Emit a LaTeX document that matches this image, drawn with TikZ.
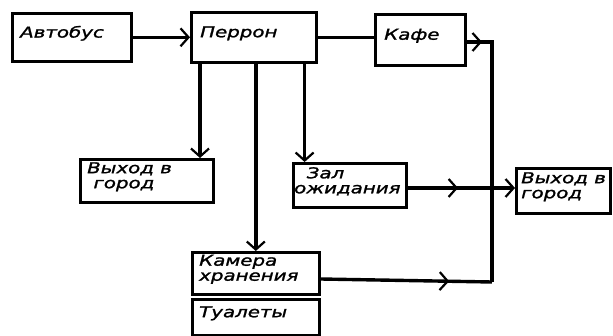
\documentclass[tikz,border=0pt]{standalone}
\usepackage{fontspec}
\setmainfont{DejaVu Sans}
\newfontfamily\hand[FakeStretch=1.32,FakeBold=1.5]{DejaVu Sans}
\usetikzlibrary{arrows.meta,decorations.markings}
\tikzset{
  x=1pt,y=1pt,
  box/.style={draw,line width=2.6pt,anchor=north west,inner sep=0pt},
  lbl/.style={anchor=west,align=left,inner sep=0pt,
    font=\hand\itshape\fontsize{15}{15}\selectfont},
  conn/.style={line width=3.4pt},
  tip/.style={-{Straight Barb[length=8pt,width=18pt,line width=2.2pt]}},
  midarr/.style={postaction={decorate},decoration={markings,
    mark=at position #1 with {\arrow{Straight Barb[length=8pt,width=18pt,line width=2.2pt]}}}}
}
\newcommand{\bx}[7]{%
  \node[box,minimum width=#4-#2,minimum height=#5-#3] (#1) at (#2,-#3) {};
  \node[lbl] (#1t) at ([xshift=#6,yshift=4pt]#1.west) {#7};}
\begin{document}
\begin{tikzpicture}
\fill[white] (0,0) rectangle (613,-336);
\useasboundingbox (0,0) rectangle (613,-336);
\bx{avt}{11}{12}{130}{60}{9pt}{Автобус}
\bx{per}{190}{11}{315}{61}{10pt}{Перрон}
\bx{kafe}{374}{13}{464}{64}{10pt}{Кафе}
\bx{vyh1}{79}{158}{212}{201}{8pt}{Выход в\\\ город}
\bx{zal}{292}{162}{405}{206}{2pt}{\ \ Зал\\ожидания}
\bx{vyh2}{515}{167}{609}{212}{6pt}{Выход в\\город}
\bx{kam}{191}{251}{318}{293}{8pt}{Камера\\хранения}
\bx{tua}{191}{298}{318}{334}{8pt}{Туалеты}
\coordinate (c1) at (492,-42);
\coordinate (c2) at (492,-282);
% connectors
\draw[conn,tip] (avt.east) -- (avt.east -| per.west);
\draw[conn] (per.east) -- (per.east -| kafe.west);
\draw[conn,tip] (kafe.east |- c1) -- ([xshift=-10pt]c1);
\draw[conn] ([xshift=-12pt]c1) -- (c1) -- (c2);
\draw[conn,midarr=0.75] (kam.east |- 0,-279) -- (c2);
\draw[conn,midarr=0.47,tip] (zal.east |- 0,-188) -- (vyh2.west |- 0,-188);
\draw[conn,tip] ([xshift=10pt]per.south west) -- ([xshift=10pt]per.south west |- vyh1.north);
\draw[conn,tip] ([xshift=2pt]per.south) -- ([xshift=2pt]per.south |- kam.north);
\draw[conn,tip] ([xshift=-13pt]per.south east) -- ([xshift=-13pt]per.south east |- zal.north);
\end{tikzpicture}
\end{document}
